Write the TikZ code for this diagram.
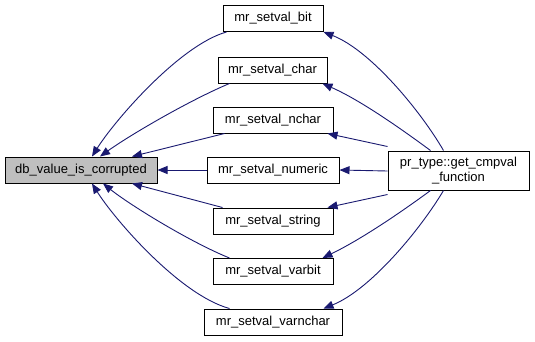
\documentclass[tikz,border=0pt]{standalone}
\usepackage{fontspec}
\setmainfont{Liberation Sans}
\usetikzlibrary{arrows.meta}
\definecolor{edgeblue}{HTML}{191970}
\definecolor{curfill}{HTML}{BFBFBF}
\begin{document}
\begin{tikzpicture}[x=1pt,y=-1pt,
  fnbox/.style={draw=black,line width=1pt,fill=white,inner sep=0pt,
    minimum height=26pt,font=\fontsize{13}{15}\selectfont},
  curbox/.style={fnbox,fill=curfill},
  calledge/.style={draw=edgeblue,line width=0.9pt,
    -{Triangle[length=10pt,width=8pt]}}]
\useasboundingbox (0,0) rectangle (535,341);

% function being documented
\node[curbox,minimum width=152pt] (cur) at (81,170) {db\_value\_is\_corrupted};

% direct callers
\node[fnbox,minimum width=100pt] (bit)      at (273,18.5) {mr\_setval\_bit};
\node[fnbox,minimum width=109pt] (chr)      at (272.5,70) {mr\_setval\_char};
\node[fnbox,minimum width=120pt] (nchar)    at (273,120)  {mr\_setval\_nchar};
\node[fnbox,minimum width=132pt] (numeric)  at (273,170)  {mr\_setval\_numeric};
\node[fnbox,minimum width=120pt] (string)   at (273,221)  {mr\_setval\_string};
\node[fnbox,minimum width=120pt] (varbit)   at (273,271.5){mr\_setval\_varbit};
\node[fnbox,minimum width=138pt] (varnchar) at (273,322)  {mr\_setval\_varnchar};

% caller of the callers
\node[fnbox,minimum width=141pt,minimum height=39pt,align=center]
  (cmp) at (458.5,170.5) {pr\_type::get\_cmpval\\\_function};

% callers -> db_value_is_corrupted
\draw[calledge] ([xshift=4pt]bit.south west)
  .. controls (180,45) and (115,120) .. ([xshift=11pt]cur.north);
\draw[calledge] ([xshift=12pt]chr.south west)
  .. controls (190,100) and (130,135) .. ([xshift=19pt]cur.north);
\draw[calledge] ([xshift=12pt]nchar.south west) -- ([xshift=51pt]cur.north);
\draw[calledge] (numeric.west) -- (cur.east);
\draw[calledge] ([xshift=10pt]string.north west) -- ([xshift=51pt]cur.south);
\draw[calledge] ([xshift=17pt]varbit.north west)
  .. controls (190,242) and (130,205) .. ([xshift=22pt]cur.south);
\draw[calledge] ([xshift=26pt]varnchar.north west)
  .. controls (180,295) and (115,220) .. ([xshift=11pt]cur.south);

% get_cmpval_function -> callers
\draw[calledge] ([xshift=-15pt]cmp.north)
  .. controls (420,110) and (370,50) .. (bit.south east);
\draw[calledge] ([xshift=-28pt]cmp.north)
  .. controls (400,128) and (360,100) .. ([xshift=-5pt]chr.south east);
\draw[calledge] ([yshift=4pt]cmp.north west) -- ([xshift=-6pt]nchar.south east);
\draw[calledge] ([yshift=-0.5pt]cmp.west) -- (numeric.east);
\draw[calledge] ([yshift=-4pt]cmp.south west) -- ([xshift=-6pt]string.north east);
\draw[calledge] ([xshift=-28pt]cmp.south)
  .. controls (400,213) and (360,240) .. ([xshift=-11pt]varbit.north east);
\draw[calledge] ([xshift=-15pt]cmp.south)
  .. controls (420,230) and (370,290) .. ([xshift=-19pt]varnchar.north east);
\end{tikzpicture}
\end{document}
